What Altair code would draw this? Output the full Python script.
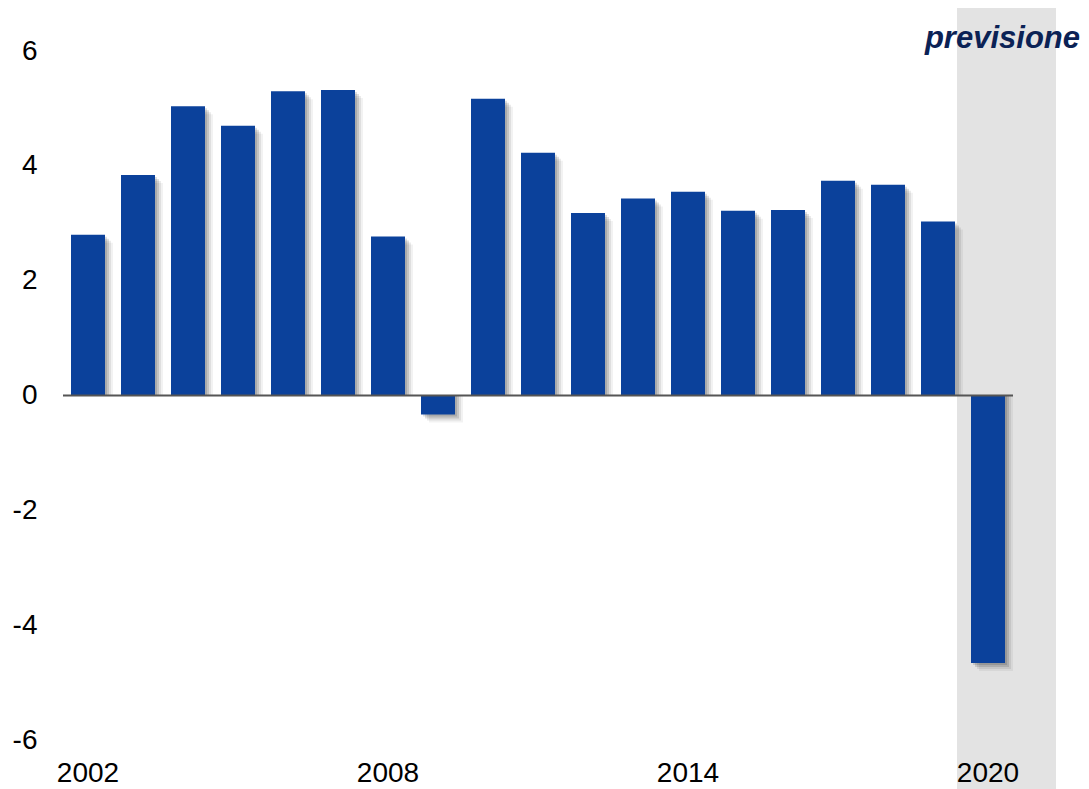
import altair as alt
import pandas as pd

years = list(range(2002, 2021))
values = [2.80, 3.84, 5.04, 4.70, 5.30, 5.32, 2.77, -0.33, 5.17, 4.23,
          3.18, 3.43, 3.55, 3.22, 3.23, 3.74, 3.67, 3.03, -4.66]
tick_years = [2002, 2008, 2014, 2020]
y_ticks = [-6, -4, -2, 0, 2, 4, 6]
forecast_label = "previsione"
forecast_start, forecast_end = 2019.38, 2021.36

df = pd.DataFrame({"year": years, "value": values})
ticks_df = pd.DataFrame({"year": tick_years, "label": [str(y) for y in tick_years]})
band_df = pd.DataFrame({"x": [forecast_start], "x2": [forecast_end]})
zero_df = pd.DataFrame({"x": [2001.5], "x2": [2020.5], "y": [0]})
lab_df = pd.DataFrame({"t": [forecast_label]})

H = 773
W = 993
PB = 8
xs = alt.Scale(domain=[2001.5, 2021.36], nice=False, zero=False, padding=0)
ys = alt.Scale(domain=[-6.713, 6.749], nice=False, zero=False, padding=0)
FONT = "Liberation Sans"

band = alt.Chart(band_df).mark_rect(color="#e3e3e3").encode(
    x=alt.X("x:Q", scale=xs, axis=None),
    x2="x2:Q",
    y=alt.value(-1),
    y2=alt.value(H + PB),
)

base = alt.Chart(df)
shadows = []
for off, op in [(2, 0.12), (4, 0.12), (6, 0.08), (8, 0.05)]:
    shadows.append(
        base.mark_bar(size=34, color="#000000", opacity=op, xOffset=off, yOffset=off).encode(
            x=alt.X("year:Q", scale=xs, axis=None),
            y=alt.Y("value:Q", scale=ys),
            y2=alt.datum(0),
        )
    )

bars = base.mark_bar(size=34, color="#0b419b").encode(
    x=alt.X("year:Q", scale=xs, axis=None),
    y=alt.Y(
        "value:Q",
        scale=ys,
        axis=alt.Axis(
            values=y_ticks, title=None, grid=False, domain=False, ticks=False,
            labelFontSize=28, labelFont=FONT, labelColor="#000000", labelPadding=26,
            labelExpr="datum.value < 0 ? '-' + abs(datum.value) : '' + datum.value",
        ),
    ),
    y2=alt.datum(0),
)

zero = alt.Chart(zero_df).mark_rule(color="#555555", strokeWidth=2).encode(
    x=alt.X("x:Q", scale=xs, axis=None),
    x2="x2:Q",
    y=alt.Y("y:Q", scale=ys),
)

xlabels = alt.Chart(ticks_df).mark_text(
    font=FONT, fontSize=28, color="#000000", align="center", baseline="alphabetic"
).encode(
    x=alt.X("year:Q", scale=xs, axis=None),
    y=alt.value(H + 1),
    text="label:N",
)

fl = alt.Chart(lab_df).mark_text(
    font=FONT, fontSize=31, fontWeight="bold", fontStyle="italic", color="#0b2255",
    align="right", baseline="alphabetic",
).encode(
    x=alt.value(1017),
    y=alt.value(40),
    text="t:N",
)

chart = alt.layer(band, *shadows, bars, zero, xlabels, fl).properties(
    width=W, height=H,
    autosize=alt.AutoSizeParams(type="none"),
    padding={"left": 55, "top": 0, "right": 25, "bottom": PB},
).configure_view(stroke=None)

chart.save("out.html", embed_options={"renderer": "svg", "actions": False})
